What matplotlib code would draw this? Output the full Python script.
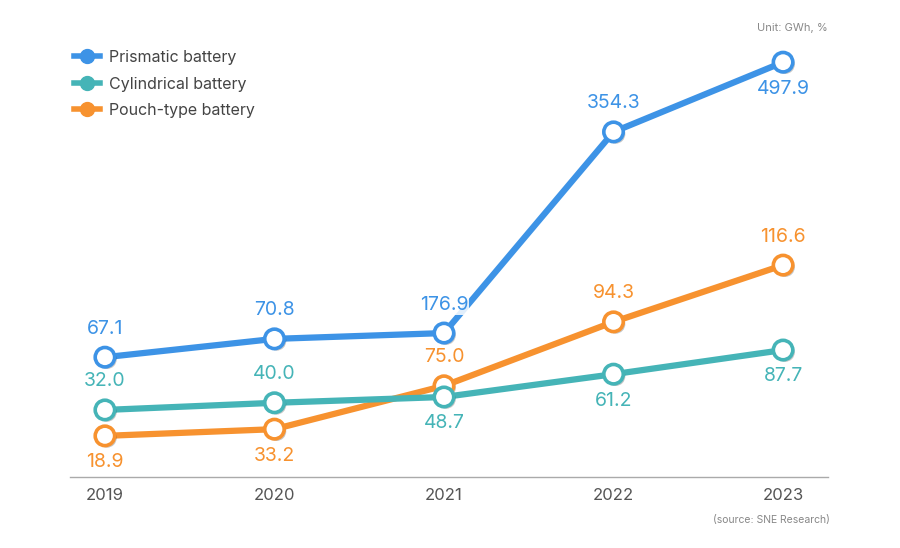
import matplotlib
matplotlib.use("Agg")
import matplotlib.pyplot as plt
from matplotlib.lines import Line2D
import matplotlib.patheffects as pe

plt.rcParams['font.family'] = ['Inter', 'DejaVu Sans']

years = [2019, 2020, 2021, 2022, 2023]
series_names = ["Prismatic battery", "Cylindrical battery", "Pouch-type battery"]
# Values printed on the chart (GWh)
prismatic_values = [67.1, 70.8, 176.9, 354.3, 497.9]
cylindrical_values = [32.0, 40.0, 48.7, 61.2, 87.7]
pouch_values = [18.9, 33.2, 75.0, 94.3, 116.6]
# Vertical levels at which the (not-to-scale) infographic draws each point
prismatic_levels = [26.8, 30.9, 32.2, 77.2, 92.8]
cylindrical_levels = [15.0, 16.6, 17.9, 23.0, 28.4]
pouch_levels = [9.2, 10.7, 20.4, 34.7, 47.4]
# Label placement: +1 above, -1 below
prismatic_pos = [1, 1, 1, 1, -1]
cylindrical_pos = [1, 1, -1, -1, -1]
pouch_pos = [-1, -1, 1, 1, 1]

colors = ["#3d93e6", "#45b4b7", "#f7922f"]

fig = plt.figure(figsize=(9, 5.48), dpi=100)
ax = fig.add_axes([70/900, 1-477/548, 758/900, 447/548])
ax.set_xlim(2018.794, 2023.265)
ax.set_ylim(0, 100)

data = [
    (prismatic_values, prismatic_levels, prismatic_pos, colors[0], 5),
    (cylindrical_values, cylindrical_levels, cylindrical_pos, colors[1], 4),
    (pouch_values, pouch_levels, pouch_pos, colors[2], 3),
]
shadow = [pe.SimplePatchShadow(offset=(1.5, -1.5), shadow_rgbFace='#000000', alpha=0.22), pe.Normal()]
for vals, levels, pos, c, z in data:
    ax.plot(years, levels, color=c, lw=4.5, zorder=z, solid_capstyle='round')
    ax.plot(years, levels, ls='none', marker='o', ms=14, mfc='white', mec=c, mew=2.6,
            zorder=z + 0.5, path_effects=shadow)
for vals, levels, pos, c, z in data:
    for x, y, v, p in zip(years, levels, vals, pos):
        ax.annotate(f"{v:.1f}", (x, y), xytext=(0, 20.5 if p > 0 else -19),
                    textcoords='offset points', ha='center', va='center',
                    fontsize=14, color=c, zorder=10,
                    bbox=dict(boxstyle='square,pad=0.05', fc='white', ec='none', alpha=0.85))

for s in ['top', 'right', 'left']:
    ax.spines[s].set_visible(False)
ax.spines['bottom'].set_color('#aaaaaa')
ax.spines['bottom'].set_linewidth(1.0)
ax.set_yticks([])
ax.set_xticks(years)
ax.set_xticklabels([str(y) for y in years], fontsize=12, color='#555555')
ax.tick_params(axis='x', length=0, pad=8)

handles = [Line2D([0], [0], color=c, lw=4, marker='o', ms=10, mfc=c, mec=c) for c in colors]
fig.legend(handles, series_names, loc='upper left', bbox_to_anchor=(74/900, 1-50/548),
           frameon=False, fontsize=11.5, handlelength=1.6, handletextpad=0.6,
           labelspacing=0.72, labelcolor='#444444', borderaxespad=0, borderpad=0)

fig.text(828/900, 1-28/548, "Unit: GWh, %", ha='right', va='center', fontsize=8, color='#888888')
fig.text(830/900, 1-520/548, "(source: SNE Research)", ha='right', va='center', fontsize=7.5, color='#888888')

fig.savefig("out.png", dpi=100)
